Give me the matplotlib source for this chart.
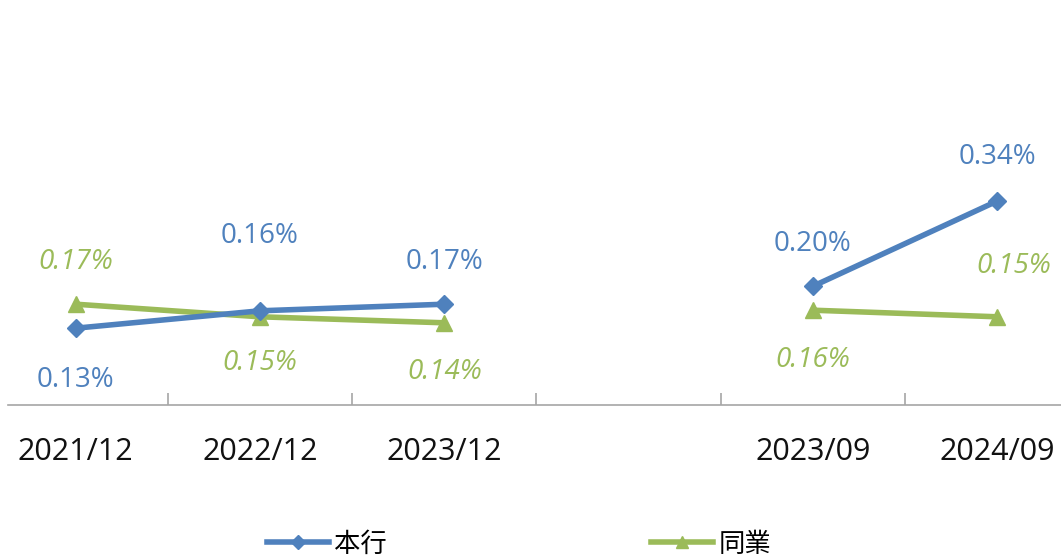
import numpy as np
import matplotlib
matplotlib.use("Agg")
import matplotlib.pyplot as plt
from matplotlib.lines import Line2D

categories = ["2021/12", "2022/12", "2023/12", "", "2023/09", "2024/09"]
bank = [0.128, 0.157, 0.168, np.nan, 0.198, 0.340]
peer = [0.168, 0.147, 0.137, np.nan, 0.158, 0.147]
bank_name = "本行"
peer_name = "同業"

# label offsets (points)
bank_off = [(0, -37.5), (0, 53.5), (0, 30.5), None, (0, 30.5), (0, 31.5)]
peer_off = [(0, 30.5), (0, -33.5), (0, -35.5), None, (0, -35.5), (12, 36.5)]

BLUE = "#4F81BD"
GREEN = "#9BBB59"

plt.rcParams['font.family'] = ['Open Sans', 'Noto Sans CJK TC', 'DejaVu Sans']

W, H = 1061, 559
fig = plt.figure(figsize=(W / 100, H / 100), dpi=100)
ax = fig.add_axes([-16.5 / W, 1 - 405 / H, 1106 / W, 360 / H])
x = np.arange(len(categories))

ax.plot(x, np.array(bank, dtype=float), color=BLUE, lw=4, marker="D", ms=9,
        solid_capstyle="round", zorder=3)
ax.plot(x, np.array(peer, dtype=float), color=GREEN, lw=4, marker="^", ms=12,
        solid_capstyle="round", zorder=2)

for i, (v, o) in enumerate(zip(bank, bank_off)):
    if not np.isnan(v):
        ax.annotate(f"{v:.2f}%", (x[i], v), xytext=o, textcoords="offset points",
                    ha="center", va="center", color=BLUE, fontsize=20)
for i, (v, o) in enumerate(zip(peer, peer_off)):
    if not np.isnan(v):
        ax.annotate(f"{v:.2f}%", (x[i], v), xytext=o, textcoords="offset points",
                    ha="center", va="center", color=GREEN, fontsize=20, style="italic")

ax.set_xlim(-0.5, len(categories) - 0.5)
ax.set_ylim(0, 0.6)
for s in ["top", "right", "left", "bottom"]:
    ax.spines[s].set_visible(False)
ax.set_yticks([])
ax.set_xticks(x)
ax.set_xticklabels(categories, fontsize=22, color="#111111")
ax.tick_params(axis="x", which="major", length=0, pad=23)
ax.set_xticks(np.arange(0.5, len(categories) - 0.5, 1), minor=True)
ax.tick_params(axis="x", which="minor", direction="in", length=9, color="#A6A6A6", width=1.2)

fig.add_artist(Line2D([8 / W, 1], [1 - 405 / H, 1 - 405 / H], color="#A6A6A6", lw=1.2,
                      transform=fig.transFigure))

handles = [Line2D([], [], color=BLUE, lw=4, marker="D", ms=7),
           Line2D([], [], color=GREEN, lw=4, marker="^", ms=9)]
fig.legend(handles, [bank_name, peer_name], loc="center", bbox_to_anchor=(519 / W, 1 - 545 / H),
           ncol=2, frameon=False, fontsize=19, handlelength=2.35, handletextpad=0.2,
           columnspacing=10, markerscale=1.0)

fig.savefig("out.png", dpi=100)
